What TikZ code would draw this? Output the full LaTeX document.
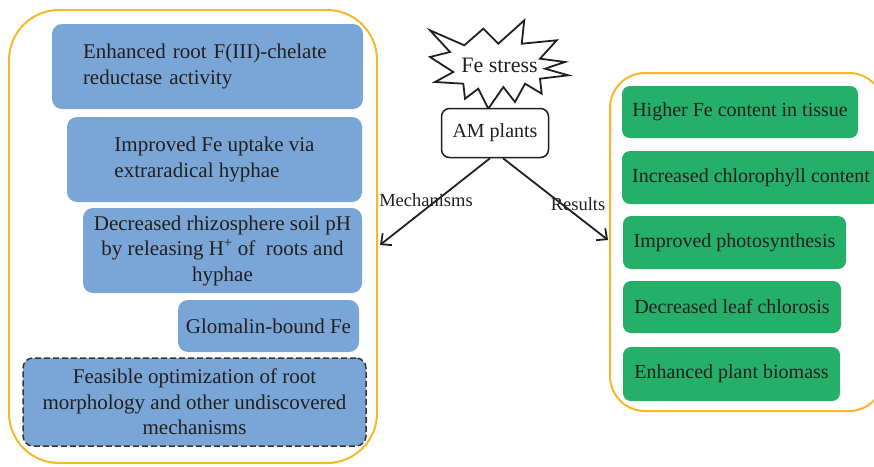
\documentclass[tikz,border=0pt]{standalone}
\usepackage{fontspec}
\setmainfont{Liberation Serif}
\usetikzlibrary{arrows.meta}
\definecolor{frameorange}{RGB}{248,183,40}
\definecolor{mechblue}{RGB}{121,166,214}
\definecolor{resgreen}{RGB}{37,176,106}
\definecolor{ink}{RGB}{35,31,32}

\begin{document}
\begin{tikzpicture}[x=1pt,y=-1pt,
  every node/.style={text=ink, font=\fontsize{20}{24}\selectfont},
  frame/.style={draw=frameorange, line width=2pt},
  mech/.style={fill=mechblue, rounded corners=10pt, inner sep=0pt,
    font=\fontsize{21}{25.5}\selectfont},
  res/.style={fill=resgreen, rounded corners=8pt, inner sep=0pt, align=center},
  lbl/.style={font=\fontsize{18.5}{20}\selectfont, inner sep=0pt},
  arr/.style={draw=ink, line width=1.8pt, -{Straight Barb[length=8pt,width=15pt]}}
]
\useasboundingbox (0,0) rectangle (874,466);

% containers
\draw[frame, rounded corners=50pt] (9,10) rectangle (377,463);
\draw[frame, rounded corners=35pt] (610,73) rectangle (884,411);

% mechanisms
\node[mech, align=left, text width=249pt, inner xsep=31pt, minimum height=85pt] (m1) at (207.5,66.5)
  {Enhanced root F(III)-chelate\\reductase activity};
\node[mech, align=left, minimum width=295pt, minimum height=85pt] (m2) at (214.5,159.5)
  {Improved Fe uptake via\\extraradical hyphae};
\node[mech, align=center, minimum width=279pt, minimum height=85pt] (m3) at (222.5,250.5)
  {Decreased rhizosphere soil pH\\by releasing H\textsuperscript{+} of~ roots and\\hyphae};
\node[mech, align=center, minimum width=181pt, minimum height=52pt] (m4) at (268.5,326)
  {Glomalin-bound Fe};
\node[mech, align=center, minimum width=343pt, minimum height=88pt,
  draw=ink!90, line width=1.5pt, dash pattern=on 6pt off 3pt] (m5) at (194.5,402)
  {Feasible optimization of root\\morphology and other undiscovered\\mechanisms};

% results
\node[res, minimum width=236pt, minimum height=52pt] (r1) at (740,112) {Higher Fe content in tissue};
\node[res, minimum width=258pt, minimum height=53pt] (r2) at (751,177.5) {Increased chlorophyll content};
\node[res, minimum width=223pt, minimum height=53pt] (r3) at (734.5,242.5) {Improved photosynthesis};
\node[res, minimum width=218pt, minimum height=52pt] (r4) at (732,307) {Decreased leaf chlorosis};
\node[res, minimum width=217pt, minimum height=54pt] (r5) at (731.5,374) {Enhanced plant biomass};

% stress burst
\draw[draw=ink, line width=1.8pt, fill=white, line join=miter, miter limit=20]
  (430,30.3) -- (464.3,45.3) -- (483.3,28.7) -- (498.3,43.7) -- (524.3,20.3)
  -- (521.7,43.7) -- (556.7,40.3) -- (540,58.7) -- (565,62) -- (545,68.7)
  -- (568.3,75.3) -- (540,78.7) -- (541.7,93.7) -- (525,83.7) -- (515,102)
  -- (503.3,87) -- (488.3,108.7) -- (478.3,88.7) -- (465,98.7) -- (463.3,83.7)
  -- (435,82) -- (453.3,72) -- (430,57) -- (450,52) -- cycle;
\node[font=\fontsize{22}{24}\selectfont] (fe) at (499.5,65) {Fe stress};

% AM plants
\node[draw=ink, line width=1.5pt, rounded corners=8pt, fill=white,
  minimum width=107pt, minimum height=49pt, inner sep=0pt] (am) at (495,133) {AM plants};

% branches
\coordinate (mechEnd) at (380,245);
\coordinate (resEnd) at (608,240);
\draw[arr] ([xshift=-5pt]am.south) -- (mechEnd);
\draw[arr] ([xshift=8pt]am.south) -- (resEnd);
\node[lbl] (mlab) at (426,200) {Mechanisms};
\node[lbl] (rlab) at (578,204) {Results};
\end{tikzpicture}
\end{document}
